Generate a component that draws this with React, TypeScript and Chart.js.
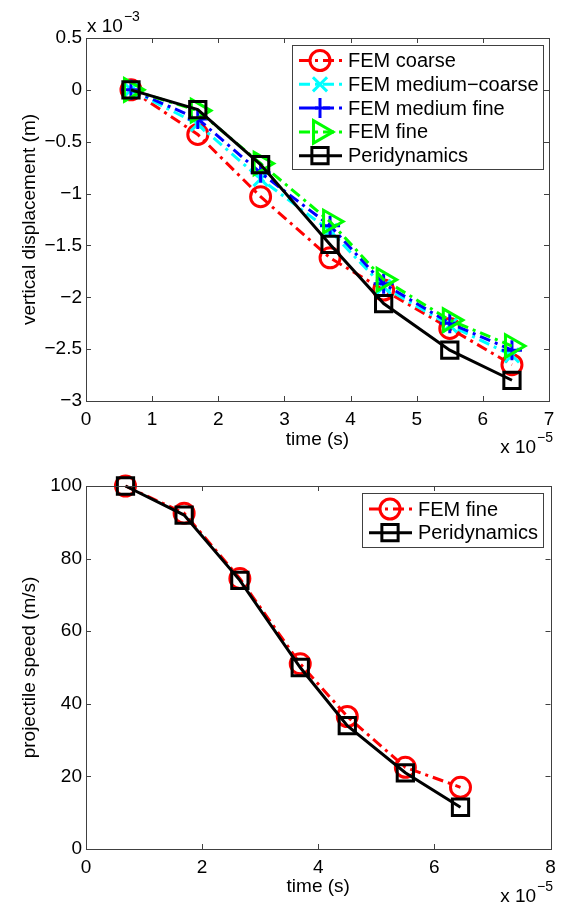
import React, { useEffect, useRef } from 'react';
import { Chart, registerables } from 'chart.js';
import { drawPoint } from 'chart.js/helpers';

Chart.register(...registerables);

const FONT = '"Liberation Sans", Arial, Helvetica, sans-serif';

// time values in units of 1e-5 s
const timeTop = [0.68, 1.69, 2.64, 3.69, 4.5, 5.5, 6.44];
const timeBottom = [0.68, 1.69, 2.65, 3.69, 4.5, 5.5, 6.45];

// vertical displacement in units of 1e-3 m
const dispFemCoarse = [0, -0.43, -1.03, -1.62, -1.93, -2.3, -2.65];
const dispFemMediumCoarse = [0, -0.33, -0.86, -1.36, -1.9, -2.27, -2.56];
const dispFemMediumFine = [0, -0.28, -0.8, -1.31, -1.87, -2.25, -2.51];
const dispFemFine = [0, -0.2, -0.71, -1.27, -1.83, -2.22, -2.47];
const dispPeridynamics = [0, -0.19, -0.72, -1.49, -2.06, -2.51, -2.8];

// projectile speed in m/s
const speedFemFine = [100, 92.5, 74.5, 51, 36.5, 22.5, 17];
const speedPeridynamics = [100, 92, 74, 50, 34, 21, 11.5];

const topXTicks = { min: 0, max: 7, step: 1 };
const topYTicks = { min: -3, max: 0.5, step: 0.5 };
const botXTicks = { min: 0, max: 8, step: 2 };
const botYTicks = { min: 0, max: 100, step: 20 };

const DASHDOT = [11, 5, 3, 5];

function fmt(v: number) {
  const r = Math.round(v * 1000) / 1000;
  return r < 0 ? '\u2212' + String(-r) : String(r);
}

function pts(xs: number[], ys: number[]) {
  return xs.map((x, i) => ({ x, y: ys[i] }));
}

function series(label: string, xs: number[], ys: number[], color: string, style: string, radius: number, dashed: boolean, order: number, rotation = 0) {
  return {
    label,
    data: pts(xs, ys),
    borderColor: color,
    borderWidth: 3,
    borderDash: dashed ? DASHDOT : [],
    pointStyle: style,
    pointRadius: radius,
    pointBorderWidth: 3,
    pointBorderColor: color,
    pointBackgroundColor: 'rgba(0,0,0,0)',
    pointRotation: rotation,
    pointHoverRadius: radius,
    fill: false,
    tension: 0,
    clip: false,
    order,
  };
}

type Expo = { text: string; sup: string; x: number; y: number; align: 'left' | 'right' };
type LegendCfg = { box: [number, number, number, number]; row0: number; step: number; lx1: number; lx2: number; mx: number; tx: number };

function makePlugin(legend: LegendCfg, expos: Expo[]) {
  return {
    id: 'matlabLook',
    afterDatasetsDraw(chart: any) {
      const ctx = chart.ctx as CanvasRenderingContext2D;
      const a = chart.chartArea;
      const xs = chart.scales.x;
      const ys = chart.scales.y;
      ctx.save();
      ctx.strokeStyle = '#404040';
      ctx.lineWidth = 1;
      ctx.setLineDash([]);
      ctx.beginPath();
      const tl = 5;
      xs.ticks.forEach((t: any) => {
        const px = Math.round(xs.getPixelForValue(t.value)) + 0.5;
        ctx.moveTo(px, a.bottom);
        ctx.lineTo(px, a.bottom - tl);
        ctx.moveTo(px, a.top);
        ctx.lineTo(px, a.top + tl);
      });
      ys.ticks.forEach((t: any) => {
        const py = Math.round(ys.getPixelForValue(t.value)) + 0.5;
        ctx.moveTo(a.left, py);
        ctx.lineTo(a.left + tl, py);
        ctx.moveTo(a.right, py);
        ctx.lineTo(a.right - tl, py);
      });
      ctx.stroke();
      ctx.strokeRect(Math.round(a.left) + 0.5, Math.round(a.top) + 0.5, Math.round(a.right - a.left), Math.round(a.bottom - a.top));
      ctx.restore();
    },
    afterDraw(chart: any) {
      const ctx = chart.ctx as CanvasRenderingContext2D;
      ctx.save();
      // legend
      const [bx, by, bw, bh] = legend.box;
      ctx.fillStyle = '#ffffff';
      ctx.fillRect(bx, by, bw, bh);
      ctx.strokeStyle = '#404040';
      ctx.lineWidth = 1;
      ctx.strokeRect(bx + 0.5, by + 0.5, bw, bh);
      const ds = chart.data.datasets;
      ds.forEach((d: any, i: number) => {
        const cy = legend.row0 + i * legend.step;
        ctx.strokeStyle = d.borderColor;
        ctx.lineWidth = d.borderWidth;
        ctx.setLineDash(d.borderDash || []);
        ctx.beginPath();
        ctx.moveTo(legend.lx1, cy);
        ctx.lineTo(legend.lx2, cy);
        ctx.stroke();
        ctx.setLineDash([]);
        ctx.fillStyle = 'rgba(0,0,0,0)';
        ctx.lineWidth = d.pointBorderWidth;
        drawPoint(ctx, { pointStyle: d.pointStyle, rotation: d.pointRotation, radius: d.pointRadius, borderWidth: d.pointBorderWidth } as any, legend.mx, cy);
        ctx.fillStyle = '#000';
        ctx.font = `20px ${FONT}`;
        ctx.textAlign = 'left';
        ctx.textBaseline = 'middle';
        ctx.fillText(d.label, legend.tx, cy + 1);
      });
      // exponent labels
      expos.forEach((e) => {
        ctx.fillStyle = '#000';
        ctx.textBaseline = 'middle';
        ctx.font = `19px ${FONT}`;
        const w1 = ctx.measureText(e.text).width;
        ctx.font = `14px ${FONT}`;
        const w2 = ctx.measureText(e.sup).width;
        const x0 = e.align === 'left' ? e.x : e.x - w1 - w2 - 1;
        ctx.textAlign = 'left';
        ctx.font = `19px ${FONT}`;
        ctx.fillText(e.text, x0, e.y);
        ctx.font = `14px ${FONT}`;
        ctx.fillText(e.sup, x0 + w1 + 1, e.y - 10);
      });
      ctx.restore();
    },
  };
}

function axisOpts(t: { min: number; max: number; step: number }, title: string, fit: (s: any) => void, isX: boolean, titlePad: any) {
  return {
    type: 'linear',
    min: t.min,
    max: t.max,
    ticks: {
      stepSize: t.step,
      color: '#000',
      font: { family: FONT, size: 19 },
      padding: isX ? 7 : 4,
      callback: (v: number) => fmt(v),
      maxRotation: 0,
      autoSkip: false,
    },
    grid: { display: false, drawTicks: false },
    border: { display: false },
    title: { display: true, text: title, color: '#000', font: { family: FONT, size: 19 }, padding: titlePad },
    afterFit: fit,
  };
}

function ChartCanvas({ config, top, height }: { config: () => any; top: number; height: number }) {
  const ref = useRef<HTMLCanvasElement | null>(null);
  useEffect(() => {
    if (!ref.current) return;
    const chart = new Chart(ref.current, config());
    return () => chart.destroy();
  }, []);
  return (
    <canvas
      ref={ref}
      width={565}
      height={height}
      style={{ position: 'absolute', left: 0, top, width: 565, height }}
    />
  );
}

const H = 454;

function topConfig() {
  return {
    type: 'line',
    data: {
      datasets: [
        series('FEM coarse', timeTop, dispFemCoarse, '#ff0000', 'circle', 10, true, 5),
        series('FEM medium\u2212coarse', timeTop, dispFemMediumCoarse, '#00ffff', 'crossRot', 10, true, 4),
        series('FEM medium fine', timeTop, dispFemMediumFine, '#0000ff', 'cross', 10, true, 3),
        series('FEM fine', timeTop, dispFemFine, '#00ff00', 'triangle', 13, true, 2, 90),
        series('Peridynamics', timeTop, dispPeridynamics, '#000000', 'rect', 11.5, false, 1),
      ],
    },
    options: {
      animation: false,
      responsive: false,
      devicePixelRatio: 1,
      layout: { padding: { left: 0, right: 13, top: 38, bottom: 0 } },
      plugins: { legend: { display: false }, tooltip: { enabled: false } },
      events: [],
      scales: {
        x: axisOpts(topXTicks, 'time (s)', (s: any) => { s.height = H - 401; }, true, { top: 0, bottom: 3 }),
        y: axisOpts(topYTicks, 'vertical displacement (m)', (s: any) => { s.width = 86; }, false, { top: 18, bottom: 0 }),
      },
    },
    plugins: [
      makePlugin(
        { box: [292, 45, 251, 124], row0: 60.5, step: 23.8, lx1: 299, lx2: 342, mx: 320, tx: 348 },
        [
          { text: 'x 10', sup: '\u22123', x: 87, y: 27, align: 'left' },
          { text: 'x 10', sup: '\u22125', x: 553, y: 448, align: 'right' },
        ]
      ),
    ],
  };
}

function bottomConfig() {
  return {
    type: 'line',
    data: {
      datasets: [
        series('FEM fine', timeBottom, speedFemFine, '#ff0000', 'circle', 10, true, 2),
        series('Peridynamics', timeBottom, speedPeridynamics, '#000000', 'rect', 11.5, false, 1),
      ],
    },
    options: {
      animation: false,
      responsive: false,
      devicePixelRatio: 1,
      layout: { padding: { left: 0, right: 13, top: 486 - H, bottom: 0 } },
      plugins: { legend: { display: false }, tooltip: { enabled: false } },
      events: [],
      scales: {
        x: axisOpts(botXTicks, 'time (s)', (s: any) => { s.height = H - (849 - H); }, true, { top: 0, bottom: 10 }),
        y: axisOpts(botYTicks, 'projectile speed (m/s)', (s: any) => { s.width = 86; }, false, { top: 18, bottom: 0 }),
      },
    },
    plugins: [
      makePlugin(
        { box: [362, 493 - H, 181, 54], row0: 509 - H, step: 23.7, lx1: 369, lx2: 412, mx: 390, tx: 418 },
        [{ text: 'x 10', sup: '\u22125', x: 553, y: 897 - H, align: 'right' }]
      ),
    ],
  };
}

export default function App() {
  return (
    <div style={{ position: 'absolute', left: 0, top: 0, width: 565, height: 908, background: '#fff' }}>
      <ChartCanvas config={topConfig} top={0} height={H} />
      <ChartCanvas config={bottomConfig} top={H} height={H} />
    </div>
  );
}
